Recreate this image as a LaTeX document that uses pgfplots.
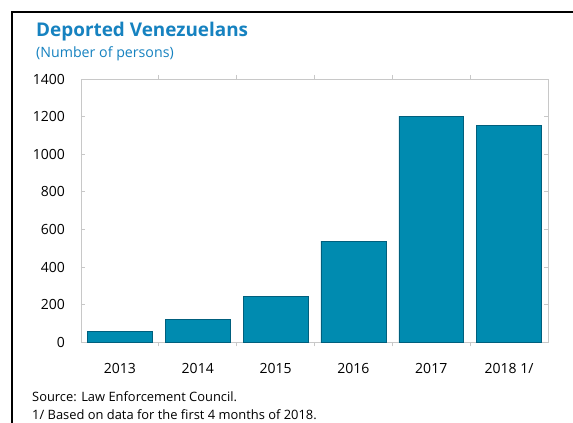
\documentclass[border=0pt]{standalone}
\usepackage{pgfplots}
\pgfplotsset{compat=1.18}
\usepackage{fontspec}
\setmainfont{Open Sans}
\definecolor{barblue}{RGB}{0,139,176}
\definecolor{baredge}{RGB}{0,95,125}
\definecolor{titleblue}{RGB}{22,130,192}
\definecolor{axisgray}{RGB}{200,200,200}
\begin{document}
\begin{tikzpicture}[x=1pt,y=1pt]
\useasboundingbox (0,0) rectangle (573,423);
\fill[white] (0,0) rectangle (573,423);
\draw[line width=2pt,black] (11.5,0) -- (11.5,411) -- (573,411);
\node[anchor=base west,inner sep=0pt,font=\fontsize{18.9}{21}\selectfont\bfseries,text=titleblue] at (36,386.3) {Deported Venezuelans};
\node[anchor=base west,inner sep=0pt,font=\fontsize{14.2}{16}\selectfont,text=titleblue] at (36,365) {(Number of persons)};
\node[anchor=base west,inner sep=0pt,font=\fontsize{12.9}{15}\selectfont] at (32,21) {Source: Law Enforcement Council.};
\node[anchor=base west,inner sep=0pt,font=\fontsize{12.9}{15}\selectfont] at (32,3.6) {1/ Based on data for the first 4 months of 2018.};
\begin{axis}[
  at={(81pt,80.7pt)}, anchor=south west,
  scale only axis, width=467pt, height=263.3pt,
  xmin=-0.5, xmax=5.5, ymin=0, ymax=1400,
  ytick={0,200,...,1400},
  xtick={0,...,5},
  xticklabels={2013,2014,2015,2016,2017,2018 1/},
  minor xtick={0.5,1.5,2.5,3.5,4.5},
  major x tick style={draw=none},
  minor x tick style={draw=axisgray, line width=0.8pt},
  minor tick length=4pt,
  major tick length=4pt,
  ytick style={draw=axisgray, line width=0.8pt},
  tick align=inside,
  axis line style={draw=axisgray, line width=0.8pt},
  /pgf/number format/assume math mode=true,
  /pgf/number format/1000 sep={},
  yticklabel style={font=\fontsize{14}{16}\selectfont, inner sep=0pt, xshift=-16pt},
  xticklabel style={font=\fontsize{14}{16}\selectfont, inner sep=0pt, yshift=-16.7pt},
  ybar, bar width=0.835,
  clip=false,
]
\addplot[fill=barblue, draw=baredge, line width=0.5pt] coordinates {
  (0,58) (1,122) (2,245) (3,538) (4,1203) (5,1155)
};
\end{axis}
\end{tikzpicture}
\end{document}
